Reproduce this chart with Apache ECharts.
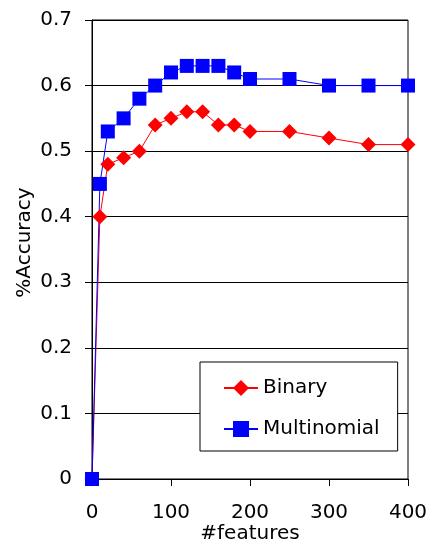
<!DOCTYPE html>
<html>
<head>
<meta charset="utf-8">
<script src="https://cdn.jsdelivr.net/npm/echarts@6/dist/echarts.min.js"></script>
<style>
    html, body { margin: 0; padding: 0; background: #fff; }
    #chart { width: 430px; height: 544px; }
</style>
</head>
<body>
<div id="chart"></div>
<script>
var features = [0, 10, 20, 40, 60, 80, 100, 120, 140, 160, 180, 200, 250, 300, 350, 400];
var binary = [0, 0.40, 0.48, 0.49, 0.50, 0.54, 0.55, 0.56, 0.56, 0.54, 0.54, 0.53, 0.53, 0.52, 0.51, 0.51];
var multinomial = [0, 0.45, 0.53, 0.55, 0.58, 0.60, 0.62, 0.63, 0.63, 0.63, 0.62, 0.61, 0.61, 0.60, 0.60, 0.60];

function pairs(xs, ys) {
    return xs.map(function (x, i) { return [x, ys[i]]; });
}

var font = 'DejaVu Sans';
var chart = echarts.init(document.getElementById('chart'));
chart.setOption({
    animation: false,
    textStyle: {fontFamily: font},
    grid: {
        left: 92, right: 22, top: 20, bottom: 65,
        outerBoundsMode: 'none',
        show: true,
        borderColor: '#000',
        borderWidth: 1
    },
    legend: {
        orient: 'vertical',
        left: 200,
        top: 362,
        padding: [16, 18, 12, 23],
        itemGap: 21,
        itemWidth: 34,
        itemHeight: 20,
        borderColor: '#000',
        borderWidth: 1,
        backgroundColor: '#fff',
        textStyle: {fontSize: 20, color: '#000', fontFamily: font},
        data: ['Binary', 'Multinomial']
    },
    xAxis: {
        type: 'value',
        min: 0,
        max: 400,
        interval: 100,
        name: '#features',
        nameLocation: 'middle',
        nameGap: 45,
        nameMoveOverlap: false,
        nameTextStyle: {fontSize: 20, color: '#000'},
        axisLine: {lineStyle: {color: '#000'}},
        axisTick: {show: true, length: 7, lineStyle: {color: '#000'}},
        axisLabel: {fontSize: 20, color: '#000', margin: 24},
        splitLine: {show: false}
    },
    yAxis: {
        type: 'value',
        min: 0,
        max: 0.7,
        interval: 0.1,
        name: '%Accuracy',
        nameLocation: 'middle',
        nameGap: 57,
        nameMoveOverlap: false,
        nameTextStyle: {fontSize: 20, color: '#000', padding: [0, 0, 0, 14]},
        axisLine: {show: true, lineStyle: {color: '#000'}},
        axisTick: {show: true, length: 7, lineStyle: {color: '#000'}},
        axisLabel: {fontSize: 20, color: '#000', margin: 20},
        splitLine: {show: true, lineStyle: {color: '#000', width: 1}}
    },
    series: [
        {
            name: 'Binary',
            type: 'line',
            data: pairs(features, binary),
            symbol: 'diamond',
            symbolSize: 15,
            lineStyle: {color: '#ff0000', width: 1},
            itemStyle: {color: '#ff0000'}
        },
        {
            name: 'Multinomial',
            type: 'line',
            data: pairs(features, multinomial),
            symbol: 'rect',
            symbolSize: 14,
            lineStyle: {color: '#0000ff', width: 1},
            itemStyle: {color: '#0000ff'}
        }
    ]
});
</script>
</body>
</html>
